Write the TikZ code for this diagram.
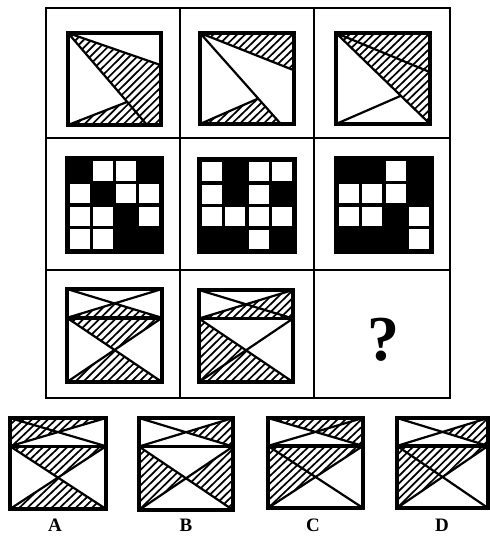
\documentclass[tikz,border=0pt]{standalone}
\usepackage{fontspec}
\setmainfont{Liberation Serif}
\tikzset{
  gridline/.style={line width=2.8pt},
  sq/.style={line width=3.4pt, line join=miter},
  ln/.style={line width=2.2pt, line cap=round},
  hl/.style={line width=1.7pt},
  lbl/.style={font=\bfseries\fontsize{19}{19}\selectfont, inner sep=0pt},
}
\newcommand\hatchfill[1]{\begin{scope}\clip #1;
 \foreach \k in {-14,...,14}{\draw[hl] ({\k*0.084-0.1},1.1)--({\k*0.084+1.1},-0.1);}
 \end{scope}}
\newcommand\wsq[2]{\fill[white] ({0.033+#1*0.242},{0.033+#2*0.242}) rectangle +(0.208,0.208);}
\newcommand\xsetup{%
 \coordinate (a1) at (0,0); \coordinate (a2) at (1,0);
 \coordinate (a3) at (0,0.31); \coordinate (a4) at (1,0.31);
 \coordinate (ac) at (0.5,0.155);
 \coordinate (b3) at (0,1); \coordinate (b4) at (1,1);
 \coordinate (bc) at (0.5,0.655);}
\newcommand\xlines{\draw[ln] (a1)--(a4) (a2)--(a3) (a3)--(b4) (a4)--(b3);
 \draw[sq] (a3)--(a4); \draw[sq] (a1) rectangle (b4);}
\newcommand\TT{\hatchfill{(a1)--(a2)--(ac)--cycle}}
\newcommand\TB{\hatchfill{(a3)--(a4)--(ac)--cycle}}
\newcommand\TL{\hatchfill{(a1)--(a3)--(ac)--cycle}}
\newcommand\TR{\hatchfill{(a2)--(a4)--(ac)--cycle}}
\newcommand\LT{\hatchfill{(a3)--(a4)--(bc)--cycle}}
\newcommand\LB{\hatchfill{(b3)--(b4)--(bc)--cycle}}
\newcommand\LL{\hatchfill{(a3)--(b3)--(bc)--cycle}}
\newcommand\LR{\hatchfill{(a4)--(b4)--(bc)--cycle}}
\begin{document}
\begin{tikzpicture}[x=1pt,y=-1pt]
\useasboundingbox (0,0) rectangle (489,537);
\fill[white] (0,0) rectangle (489,537);
% grid
\draw[gridline] (46,8) rectangle (450,398);
\draw[gridline] (180,8)--(180,398) (314,8)--(314,398) (46,138)--(450,138) (46,270)--(450,270);
% row 1
\begin{scope}[shift={(68,33)}, x={(93pt,0pt)}, y={(0pt,-92pt)}]
 \hatchfill{(0,0)--(1,0.35)--(1,1)--(0.85,1)--cycle}
 \hatchfill{(0,1)--(0.635,0.75)--(0.85,1)--cycle}
 \draw[ln] (0,0)--(1,0.35) (0,0)--(0.85,1) (0,1)--(0.635,0.75);
 \draw[sq] (0,0) rectangle (1,1);
\end{scope}
\begin{scope}[shift={(200,33)}, x={(94pt,0pt)}, y={(0pt,-91pt)}]
 \hatchfill{(0,0)--(1,0)--(1,0.41)--cycle}
 \hatchfill{(0,1)--(0.62,0.72)--(0.86,1)--cycle}
 \draw[ln] (0,0)--(1,0.41) (0,0)--(0.86,1) (0,1)--(0.62,0.72);
 \draw[sq] (0,0) rectangle (1,1);
\end{scope}
\begin{scope}[shift={(336,33)}, x={(94pt,0pt)}, y={(0pt,-91pt)}]
 \hatchfill{(0,0)--(1,0)--(1,1)--cycle}
 \draw[ln] (0,0)--(1,0.43) (0,0)--(1,1) (0,1)--(0.69,0.69);
 \draw[sq] (0,0) rectangle (1,1);
\end{scope}
% row 2
\begin{scope}[shift={(67,158)}, x={(95pt,0pt)}, y={(0pt,-94pt)}]
 \fill[black] (0,0) rectangle (1,1);
 \wsq{1}{0}\wsq{2}{0}
 \wsq{0}{1}\wsq{2}{1}\wsq{3}{1}
 \wsq{0}{2}\wsq{1}{2}\wsq{3}{2}
 \wsq{0}{3}\wsq{1}{3}
 \draw[sq] (0,0) rectangle (1,1);
\end{scope}
\begin{scope}[shift={(199,159)}, x={(96pt,0pt)}, y={(0pt,-93pt)}]
 \fill[black] (0,0) rectangle (1,1);
 \wsq{0}{0}\wsq{2}{0}\wsq{3}{0}
 \wsq{0}{1}\wsq{2}{1}
 \wsq{0}{2}\wsq{1}{2}\wsq{2}{2}\wsq{3}{2}
 \wsq{2}{3}
 \draw[sq] (0,0) rectangle (1,1);
\end{scope}
\begin{scope}[shift={(336,158)}, x={(96pt,0pt)}, y={(0pt,-94pt)}]
 \fill[black] (0,0) rectangle (1,1);
 \wsq{2}{0}
 \wsq{0}{1}\wsq{1}{1}\wsq{2}{1}
 \wsq{0}{2}\wsq{1}{2}\wsq{3}{2}
 \wsq{3}{3}
 \draw[sq] (0,0) rectangle (1,1);
\end{scope}
% row 3
\begin{scope}[shift={(67,289)}, x={(95pt,0pt)}, y={(0pt,-93pt)}]
 \xsetup \TB \LT \LB \xlines
\end{scope}
\begin{scope}[shift={(199,290)}, x={(94pt,0pt)}, y={(0pt,-92pt)}]
 \xsetup \TB \TR \LL \LB \xlines
\end{scope}
\node[font=\bfseries\fontsize{64}{64}\selectfont, inner sep=0pt] (q) at (383,340) {?};
% options
\begin{scope}[shift={(10,418)}, x={(96pt,0pt)}, y={(0pt,-91pt)}]
 \xsetup \TT \TL \LT \LB \xlines
\end{scope}
\begin{scope}[shift={(139,418)}, x={(94pt,0pt)}, y={(0pt,-92pt)}]
 \xsetup \TR \LL \LR \xlines
\end{scope}
\begin{scope}[shift={(268,418)}, x={(95pt,0pt)}, y={(0pt,-90pt)}]
 \xsetup \TT \TR \LL \LT \xlines
\end{scope}
\begin{scope}[shift={(397,418)}, x={(91pt,0pt)}, y={(0pt,-90pt)}]
 \xsetup \TR \LL \LT \xlines
\end{scope}
\node[lbl] (la) at (55,525) {A};
\node[lbl] (lb) at (186,525) {B};
\node[lbl] (lc) at (313,525) {C};
\node[lbl] (ld) at (442,525) {D};
\end{tikzpicture}
\end{document}
